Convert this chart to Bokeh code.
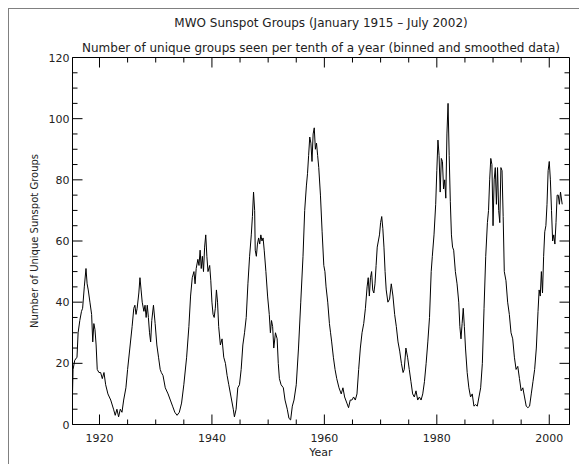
from bokeh.plotting import figure
from bokeh.models import SingleIntervalTicker, Range1d, Title
from bokeh.embed import file_html
from bokeh.resources import INLINE

years = [1915.2, 1915.3, 1915.6, 1916.0, 1916.2, 1916.5, 1916.8, 1917.0, 1917.3, 1917.6, 1917.8,
         1918.0, 1918.3, 1918.6, 1918.8, 1919.0, 1919.2, 1919.4, 1919.6, 1919.9, 1920.2, 1920.5,
         1920.8, 1921.1, 1921.5, 1922.0, 1922.5, 1922.8, 1923.1, 1923.4, 1923.7, 1924.0, 1924.3,
         1924.7, 1925.0, 1925.4, 1925.8, 1926.1, 1926.3, 1926.5, 1926.7, 1927.0, 1927.2, 1927.4,
         1927.6, 1927.9, 1928.1, 1928.3, 1928.5, 1928.7, 1928.9, 1929.1, 1929.3, 1929.6, 1929.9,
         1930.2, 1930.5, 1930.8, 1931.0, 1931.3, 1931.7, 1932.2, 1932.6, 1933.0, 1933.4, 1933.8,
         1934.2, 1934.6, 1935.0, 1935.5, 1935.9, 1936.2, 1936.5, 1936.8, 1937.0, 1937.2, 1937.5,
         1937.7, 1937.9, 1938.1, 1938.3, 1938.5, 1938.7, 1938.9, 1939.1, 1939.3, 1939.6, 1939.8,
         1940.0, 1940.2, 1940.4, 1940.6, 1940.8, 1941.0, 1941.2, 1941.5, 1941.8, 1942.1, 1942.4,
         1942.7, 1943.0, 1943.4, 1943.8, 1944.0, 1944.3, 1944.6, 1944.9, 1945.2, 1945.5, 1945.8,
         1946.1, 1946.4, 1946.7, 1947.0, 1947.2, 1947.4, 1947.6, 1947.7, 1947.9, 1948.1, 1948.3,
         1948.5, 1948.7, 1948.9, 1949.1, 1949.3, 1949.6, 1949.9, 1950.2, 1950.4, 1950.6, 1950.8,
         1951.0, 1951.3, 1951.6, 1951.8, 1952.0, 1952.3, 1952.7, 1953.0, 1953.4, 1953.7, 1954.0,
         1954.3, 1954.6, 1955.0, 1955.4, 1955.8, 1956.2, 1956.5, 1956.8, 1957.0, 1957.2, 1957.4,
         1957.6, 1957.8, 1958.0, 1958.2, 1958.4, 1958.6, 1958.8, 1959.0, 1959.3, 1959.6, 1959.9,
         1960.1, 1960.3, 1960.6, 1960.9, 1961.1, 1961.3, 1961.6, 1961.9, 1962.2, 1962.6, 1963.0,
         1963.3, 1963.6, 1964.0, 1964.3, 1964.6, 1964.9, 1965.2, 1965.5, 1965.8, 1966.1, 1966.4,
         1966.7, 1967.0, 1967.3, 1967.6, 1967.8, 1968.0, 1968.2, 1968.4, 1968.6, 1968.8, 1969.0,
         1969.2, 1969.4, 1969.6, 1969.8, 1970.0, 1970.2, 1970.4, 1970.6, 1970.8, 1971.0, 1971.3,
         1971.6, 1971.9, 1972.2, 1972.5, 1972.8, 1973.1, 1973.4, 1973.7, 1974.0, 1974.2, 1974.5,
         1974.8, 1975.1, 1975.4, 1975.7, 1976.0, 1976.3, 1976.6, 1976.9, 1977.2, 1977.5, 1977.8,
         1978.1, 1978.4, 1978.7, 1979.0, 1979.2, 1979.5, 1979.8, 1980.0, 1980.2, 1980.4, 1980.6,
         1980.8, 1981.0, 1981.2, 1981.4, 1981.6, 1981.8, 1982.0, 1982.2, 1982.4, 1982.6, 1982.8,
         1983.0, 1983.3, 1983.6, 1983.9, 1984.1, 1984.3, 1984.5, 1984.7, 1984.9, 1985.1, 1985.4,
         1985.7, 1986.0, 1986.3, 1986.6, 1986.9, 1987.2, 1987.5, 1987.8, 1988.1, 1988.4, 1988.7,
         1989.0, 1989.2, 1989.4, 1989.6, 1989.8, 1990.0, 1990.2, 1990.4, 1990.6, 1990.8, 1991.0,
         1991.2, 1991.4, 1991.6, 1991.8, 1992.0, 1992.3, 1992.6, 1992.9, 1993.2, 1993.5, 1993.8,
         1994.1, 1994.4, 1994.7, 1995.0, 1995.3, 1995.6, 1995.9, 1996.2, 1996.5, 1996.8, 1997.1,
         1997.4, 1997.7, 1998.0, 1998.2, 1998.4, 1998.6, 1998.8, 1999.0, 1999.2, 1999.4, 1999.6,
         1999.8, 2000.0, 2000.2, 2000.4, 2000.6, 2000.8, 2001.0, 2001.2, 2001.4, 2001.6, 2001.8,
         2002.0, 2002.3]

groups = [10, 18, 21, 22, 30, 34, 37, 38, 45, 51, 46,
          44, 40, 36, 27, 33, 31, 26, 18, 17, 17, 15,
          17, 13, 10, 8, 5, 3, 5, 2.5, 5, 4, 8,
          12, 18, 25, 32, 38, 39, 36, 38, 43, 48, 44,
          40, 37, 39, 35, 39, 35, 30, 27, 34, 39, 33,
          26, 22, 18, 17, 16, 12, 10, 8, 6, 4, 3,
          4, 7, 13, 22, 32, 42, 48, 50, 46, 51, 54,
          52, 57, 51, 55, 50, 58, 62, 55, 50, 52, 47,
          40, 36, 35, 38, 44, 40, 32, 26, 28, 22, 20,
          16, 13, 9, 5, 2.5, 5, 12, 13, 18, 26, 30,
          35, 46, 55, 62, 68, 76, 70, 57, 55, 59, 61,
          59, 62, 60, 61, 57, 50, 42, 36, 30, 34, 32,
          25, 30, 28, 20, 15, 13, 12, 8, 5, 2, 1.5,
          6, 8, 13, 25, 40, 55, 70, 78, 82, 88, 94,
          92, 86, 95, 97, 90, 92, 88, 84, 75, 63, 52,
          50, 45, 40, 33, 30, 27, 22, 18, 15, 12, 10,
          12, 9, 7, 5.5, 8, 8, 9, 8, 10, 18, 25,
          30, 33, 38, 45, 48, 42, 48, 50, 44, 43, 46,
          52, 58, 60, 62, 66, 68, 64, 58, 50, 44, 40,
          41, 46, 42, 36, 32, 27, 24, 20, 17, 18, 25,
          22, 18, 14, 10, 9, 11, 8, 9, 8, 10, 14,
          20, 27, 35, 50, 55, 62, 72, 83, 93, 88, 76,
          87, 86, 77, 80, 74, 95, 105, 88, 73, 62, 58,
          57, 50, 46, 40, 32, 28, 33, 38, 32, 25, 17,
          12, 9, 10, 6, 6.5, 6, 9, 12, 20, 38, 55,
          66, 70, 80, 87, 85, 65, 80, 84, 72, 84, 70,
          66, 84, 83, 68, 50, 47, 40, 36, 30, 28, 22,
          18, 19, 15, 11, 12, 9, 6, 5.5, 6, 10, 14,
          18, 25, 37, 44, 42, 50, 43, 55, 63, 65, 72,
          83, 86, 80, 70, 60, 62, 59, 66, 75, 75, 72,
          76, 72]

x_major_ticks = [1920, 1940, 1960, 1980, 2000]
x_minor_ticks = [1925, 1930, 1935, 1945, 1950, 1955, 1965, 1970, 1975, 1985, 1990, 1995]
y_major_ticks = [0, 20, 40, 60, 80, 100, 120]
y_minor_ticks = [5, 10, 15, 25, 30, 35, 45, 50, 55, 65, 70, 75, 85, 90, 95, 105, 110, 115]

X_START, X_END = 1915.2, 2003.6
Y_START, Y_END = 0, 120

title_text = "MWO Sunspot Groups (January 1915 \u2013 July 2002)"
subtitle_text = "Number of unique groups seen per tenth of a year (binned and smoothed data)"

FONT = "DejaVu Sans"
TXT = "#222222"

W, H = 579, 464
B_LEFT, B_RIGHT, B_TOP, B_BOTTOM = 72, 10, 57, 40
FRAME_W = W - B_LEFT - B_RIGHT
FRAME_H = H - B_TOP - B_BOTTOM

p = figure(width=W, height=H, output_backend="svg", toolbar_location=None,
           x_range=Range1d(X_START, X_END), y_range=Range1d(Y_START, Y_END),
           min_border_left=B_LEFT, min_border_right=B_RIGHT,
           min_border_top=B_TOP, min_border_bottom=B_BOTTOM,
           x_axis_label="Year", y_axis_label="Number of Unique Sunspot Groups",
           title=None)
p.xgrid.visible = False
p.ygrid.visible = False
p.outline_line_color = "black"
p.background_fill_color = "white"
p.border_fill_color = None
p.styles = {
    "background-color": "white",
    "background-image": "linear-gradient(#808080, #808080), linear-gradient(#808080, #808080)",
    "background-size": "1px 456px, 571px 1px",
    "background-position": "8px 8px, 8px 8px",
    "background-repeat": "no-repeat",
}

p.add_layout(Title(text=subtitle_text, align="center", text_font=FONT, text_font_size="12px",
                   text_font_style="normal", text_color=TXT, standoff=6), "above")
p.add_layout(Title(text=title_text, align="center", text_font=FONT, text_font_size="12px",
                   text_font_style="normal", text_color=TXT, standoff=12), "above")

p.line(years, groups, line_color="black", line_width=1)

# inward ticks on all four sides (lengths in pixels converted to data units)
MAJ_PX, MIN_PX = 10, 5
dx_per_px = (X_END - X_START) / FRAME_W
dy_per_px = (Y_END - Y_START) / FRAME_H

def vticks(xs, y0, sign, px):
    return dict(x0=xs, y0=[y0] * len(xs), x1=xs, y1=[y0 + sign * px * dy_per_px] * len(xs))

def hticks(ys, x0, sign, px):
    return dict(x0=[x0] * len(ys), y0=ys, x1=[x0 + sign * px * dx_per_px] * len(ys), y1=ys)

for spec in (vticks(x_major_ticks, Y_START, 1, MAJ_PX), vticks(x_minor_ticks, Y_START, 1, MIN_PX),
             vticks(x_major_ticks, Y_END, -1, MAJ_PX), vticks(x_minor_ticks, Y_END, -1, MIN_PX),
             hticks(y_major_ticks, X_START, 1, MAJ_PX), hticks(y_minor_ticks, X_START, 1, MIN_PX),
             hticks(y_major_ticks, X_END, -1, MAJ_PX), hticks(y_minor_ticks, X_END, -1, MIN_PX)):
    p.segment(line_color="black", line_width=1, **spec)

for ax in list(p.xaxis) + list(p.yaxis):
    ax.ticker = SingleIntervalTicker(interval=20, num_minor_ticks=0)
    ax.axis_line_color = "black"
    ax.major_tick_in = 0
    ax.major_tick_out = 0
    ax.minor_tick_in = 0
    ax.minor_tick_out = 0
    ax.major_label_text_font = FONT
    ax.major_label_text_font_size = "11px"
    ax.major_label_text_color = TXT
    ax.axis_label_text_font = FONT
    ax.axis_label_text_font_style = "normal"
    ax.axis_label_text_color = TXT

for ax in p.xaxis:
    ax.major_label_standoff = 9
    ax.axis_label_standoff = 1
    ax.axis_label_text_font_size = "11px"
for ax in p.yaxis:
    ax.major_label_standoff = 3
    ax.axis_label_standoff = 6
    ax.axis_label_text_font_size = "10px"

open("out.html", "w").write(file_html(p, INLINE))
